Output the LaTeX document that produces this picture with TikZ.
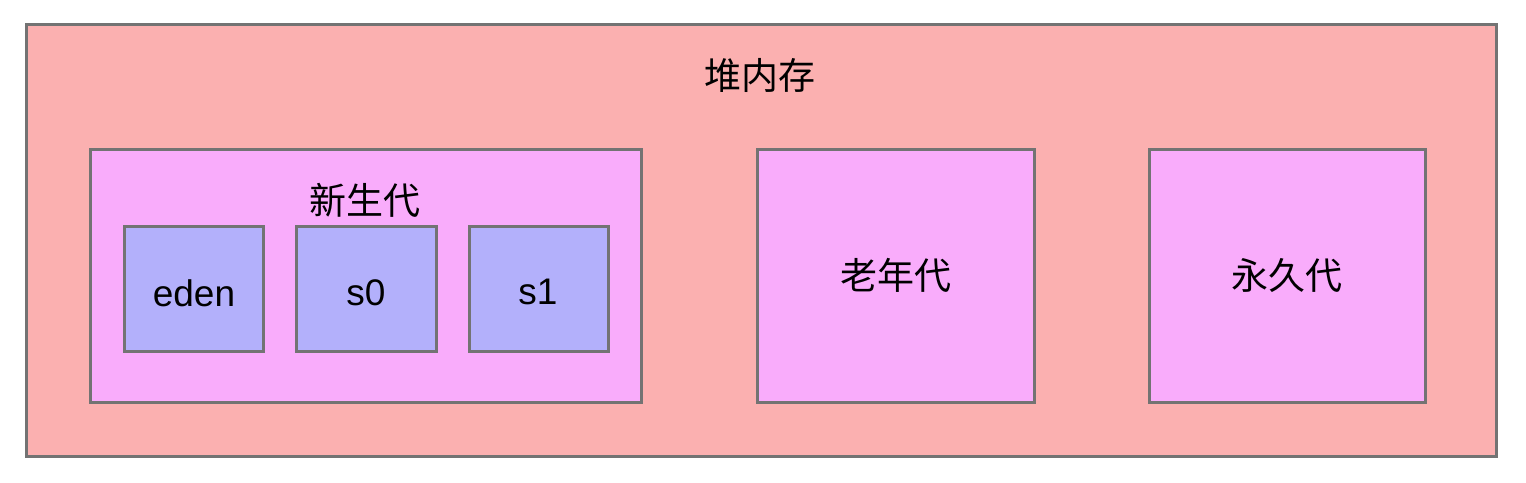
\documentclass[tikz,border=0pt]{standalone}
\usepackage{fontspec}
\setmainfont{Liberation Sans}
\newfontfamily\cjk{Noto Sans CJK SC}
\definecolor{boxgray}{HTML}{737373}
\definecolor{heapred}{HTML}{FBB0B0}
\definecolor{genpink}{HTML}{F9ACFB}
\definecolor{areablue}{HTML}{B3B0FB}
\begin{document}
\begin{tikzpicture}[x=1pt,y=-1pt,
    box/.style={draw=boxgray, line width=3pt, inner sep=0pt},
    lbl/.style={font=\fontsize{37}{44}\selectfont, inner sep=0pt}]
        \useasboundingbox (0,0) rectangle (1526,482);

        % heap
        \node[box, fill=heapred, minimum width=1470pt, minimum height=432pt] (heap) at (761,240) {};
        \node[lbl] (heaplabel) at (760,75) {\cjk 堆内存};

        % young generation
        \node[box, fill=genpink, minimum width=551pt, minimum height=253pt] (young) at (365.5,275.5) {};
        \node[lbl] (younglabel) at (365,200) {\cjk 新生代};
        \node[box, fill=areablue, minimum width=139pt, minimum height=125pt] (eden) at (193.5,288.5) {};
        \node[box, fill=areablue, minimum width=140pt, minimum height=125pt] (szero) at (366,288.5) {};
        \node[box, fill=areablue, minimum width=139pt, minimum height=125pt] (sone) at (538.5,288.5) {};
        \node[lbl, anchor=base] (edenlabel) at (194,306) {eden};
        \node[lbl, anchor=base] (szerolabel) at (366,305) {s0};
        \node[lbl, anchor=base] (sonelabel) at (538,304) {s1};

        % old and permanent
        \node[box, fill=genpink, minimum width=277pt, minimum height=253pt, lbl] (old) at (895.5,275.5) {\cjk 老年代};
        \node[box, fill=genpink, minimum width=276pt, minimum height=253pt, lbl] (perm) at (1287,275.5) {\cjk 永久代};
    \end{tikzpicture}
\end{document}
